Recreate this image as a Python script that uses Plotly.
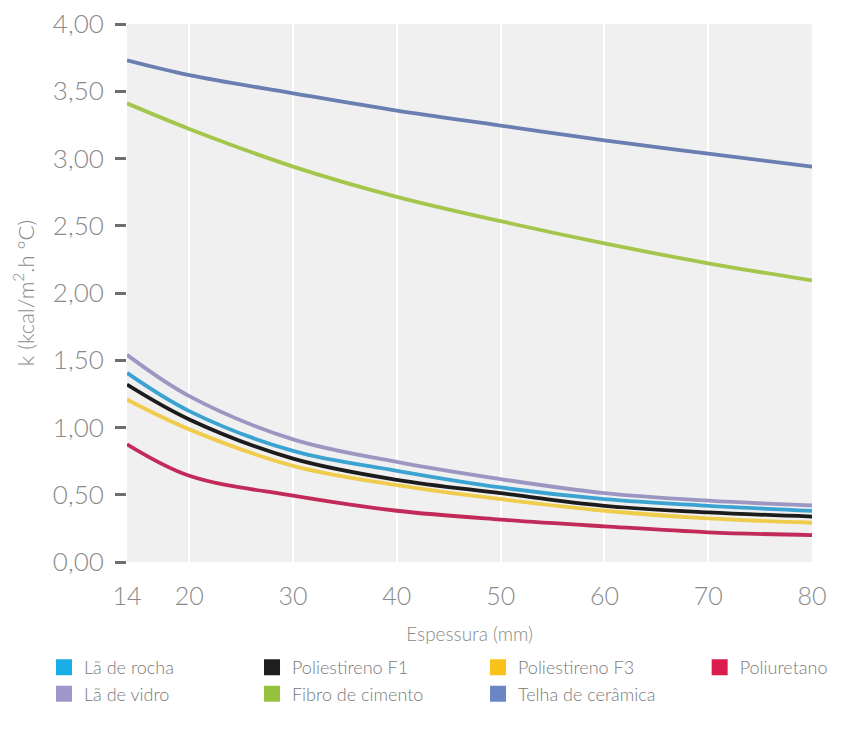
import plotly.graph_objects as go

# Espessura (mm)
espessura = [14, 20, 30, 40, 50, 60, 70, 80]

# k (kcal/m².h °C)
telha_ceramica = [3.73, 3.62, 3.485, 3.356, 3.245, 3.134, 3.036, 2.94]
fibro_cimento = [3.41, 3.22, 2.94, 2.715, 2.534, 2.369, 2.221, 2.093]
la_vidro = [1.54, 1.233, 0.912, 0.744, 0.616, 0.512, 0.456, 0.42]
la_rocha = [1.406, 1.122, 0.826, 0.678, 0.554, 0.467, 0.418, 0.38]
poliestireno_f1 = [1.319, 1.06, 0.769, 0.611, 0.512, 0.418, 0.369, 0.338]
poliestireno_f3 = [1.208, 0.986, 0.715, 0.571, 0.467, 0.381, 0.324, 0.292]
poliuretano = [0.875, 0.641, 0.493, 0.381, 0.315, 0.265, 0.221, 0.2]

x_ticks = [14, 20, 30, 40, 50, 60, 70, 80]
y_ticks = [0, 0.5, 1, 1.5, 2, 2.5, 3, 3.5, 4]

series = [
    # name, values, line colour, legend colour, legend id
    ("Lã de rocha", la_rocha, "#3ba3d2", "#1aaee6", "legend"),
    ("Lã de vidro", la_vidro, "#9c97c2", "#9e98c8", "legend"),
    ("Poliestireno F1", poliestireno_f1, "#1c1c1c", "#1e1e1e", "legend2"),
    ("Fibro de cimento", fibro_cimento, "#a5c64c", "#95c33c", "legend2"),
    ("Poliestireno F3", poliestireno_f3, "#efcc4c", "#f9c31a", "legend3"),
    ("Telha de cerâmica", telha_ceramica, "#6b7eb2", "#6a86c4", "legend3"),
    ("Poliuretano", poliuretano, "#c22a5a", "#dc1c50", "legend4"),
]

draw_order = ["Telha de cerâmica", "Fibro de cimento", "Lã de vidro", "Lã de rocha",
              "Poliestireno F1", "Poliestireno F3", "Poliuretano"]

fig = go.Figure()
lookup = {s[0]: s for s in series}
for name in draw_order:
    _, vals, lc, _, _ = lookup[name]
    fig.add_trace(go.Scatter(x=espessura, y=vals, mode="lines", name=name,
                             line=dict(color=lc, width=3.8, shape="spline", smoothing=1),
                             showlegend=False, hoverinfo="skip"))

for name, vals, lc, sc, lg in series:
    fig.add_trace(go.Scatter(x=[None], y=[None], mode="markers", name=name,
                             marker=dict(symbol="square", size=16, color=sc),
                             legend=lg, showlegend=True))

font_family = "Lato"
grey = "#8a8a8a"
legend_common = dict(orientation="v", yanchor="top", xanchor="left",
                     font=dict(family=font_family, size=18, color="#7a7a7a", weight=300),
                     bgcolor="rgba(0,0,0,0)", borderwidth=0, tracegroupgap=0,
                     itemclick=False)
ly = -0.162
fig.update_layout(
    width=842, height=728,
    margin=dict(l=119, r=38, t=16, b=174, autoexpand=False),
    paper_bgcolor="white", plot_bgcolor="#f0f0f0",
    separators=",.",
    font=dict(family=font_family, color=grey),
    showlegend=True,
    legend=dict(x=-0.1212, y=ly, **legend_common),
    legend2=dict(x=0.1825, y=ly, **legend_common),
    legend3=dict(x=0.5124, y=ly, **legend_common),
    legend4=dict(x=0.836, y=ly, **legend_common),
    xaxis=dict(range=[14, 80], tickvals=x_ticks, ticks="", showgrid=True,
               gridcolor="white", gridwidth=2, zeroline=False, showline=False,
               tickfont=dict(family=font_family, size=25, color=grey, weight=300),
               ticklabelstandoff=17, ticklabeloverflow="allow",
               title=dict(text="Espessura (mm)", standoff=18,
                          font=dict(family=font_family, size=19, color=grey, weight=300))),
    yaxis=dict(range=[0, 4], tickvals=y_ticks, tickformat=".2f", ticks="outside",
               ticklen=11, tickwidth=3, tickcolor="#6e6e6e", showgrid=False,
               zeroline=False, showline=False, ticklabelstandoff=6,
               ticklabeloverflow="allow",
               tickfont=dict(family=font_family, size=26, color=grey, weight=300),
               title=dict(text="k (kcal/m<sup>2</sup>.h °C)", standoff=12,
                          font=dict(family=font_family, size=22, color=grey, weight=300))),
)

fig.write_html("out.html")
